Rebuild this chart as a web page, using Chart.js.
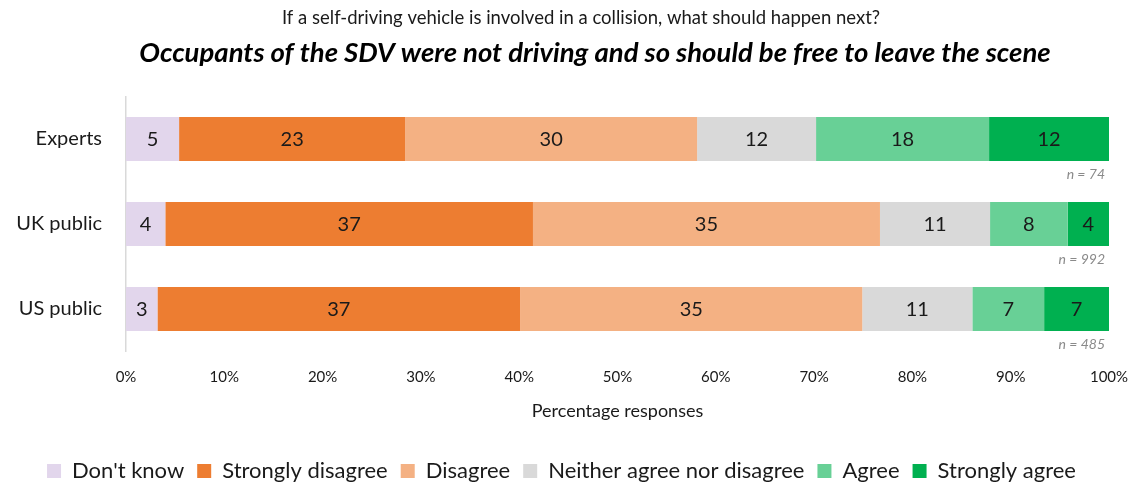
<!DOCTYPE html>
<html>
<head>
<meta charset="utf-8">
<script src="https://cdn.jsdelivr.net/npm/chart.js@4"></script>
<style>
  html, body { margin: 0; padding: 0; background: #fff; }
  #wrap { width: 1135px; height: 485px; }
</style>
</head>
<body>
<div id="wrap"><canvas id="chart"></canvas></div>
<script>
const FONT = "Lato, 'Open Sans', sans-serif";

const question = 'If a self-driving vehicle is involved in a collision, what should happen next?';
const statement = 'Occupants of the SDV were not driving and so should be free to leave the scene';

const groups = ['Experts', 'UK public', 'US public'];
const sampleSizes = ['n = 74', 'n = 992', 'n = 485'];
const responseLabels = ["Don't know", 'Strongly disagree', 'Disagree', 'Neither agree nor disagree', 'Agree', 'Strongly agree'];
const responseColors = ['#E2D6EC', '#ED7D31', '#F4B183', '#D9D9D9', '#68D096', '#00B050'];

// percentages per response, order: Experts, UK public, US public
const dontKnow = [5.4, 4.0, 3.2];
const stronglyDisagree = [23.0, 37.4, 36.9];
const disagree = [29.7, 35.3, 34.8];
const neither = [12.1, 11.2, 11.2];
const agree = [17.6, 7.9, 7.3];
const stronglyAgree = [12.2, 4.2, 6.6];

const xTicks = [0, 10, 20, 30, 40, 50, 60, 70, 80, 90, 100];

const seriesValues = [dontKnow, stronglyDisagree, disagree, neither, agree, stronglyAgree];

// the two heading lines (they are not centred on the same point in the original)
const headings = {
  id: 'headings',
  afterDraw(chart) {
    const ctx = chart.ctx;
    ctx.save();
    ctx.textAlign = 'center';
    ctx.textBaseline = 'middle';
    ctx.fillStyle = '#1a1a1a';
    ctx.font = '18.5px ' + FONT;
    ctx.fillText(question, 581, 18);
    ctx.fillStyle = '#000';
    ctx.font = 'italic bold 27.5px ' + FONT;
    ctx.fillText(statement, 595, 53);
    ctx.restore();
  }
};

// numbers inside the bars + the "n = ..." notes under each bar
const barLabels = {
  id: 'barLabels',
  afterDatasetsDraw(chart) {
    const ctx = chart.ctx;
    ctx.save();
    ctx.textAlign = 'center';
    ctx.textBaseline = 'middle';
    ctx.fillStyle = '#1a1a1a';
    ctx.font = '20px ' + FONT;
    chart.data.datasets.forEach((ds, i) => {
      chart.getDatasetMeta(i).data.forEach((bar, j) => {
        const v = Math.round(ds.data[j]);
        ctx.fillText(String(v), (bar.x + bar.base) / 2, bar.y + 1);
      });
    });
    const meta = chart.getDatasetMeta(0);
    ctx.textAlign = 'right';
    ctx.fillStyle = '#8a8a8a';
    ctx.font = 'italic 14px ' + FONT;
    meta.data.forEach((bar, j) => {
      ctx.fillText(sampleSizes[j], chart.chartArea.right - 4, bar.y + bar.height / 2 + 13);
    });
    ctx.restore();
  }
};

const chart = new Chart(document.getElementById('chart'), {
  type: 'bar',
  data: {
    labels: groups,
    datasets: seriesValues.map((vals, i) => ({
      label: responseLabels[i],
      data: vals,
      backgroundColor: responseColors[i],
      borderWidth: 0,
      categoryPercentage: 1,
      barPercentage: 0.52
    }))
  },
  options: {
    indexAxis: 'y',
    responsive: true,
    maintainAspectRatio: false,
    animation: false,
    layout: { padding: { left: 14, right: 26, top: 96.5, bottom: -7 } },
    scales: {
      x: {
        stacked: true,
        min: 0,
        max: 100,
        afterBuildTicks(scale) {
          scale.ticks = xTicks.map(v => ({ value: v }));
        },
        afterFit(scale) {
          scale.height = 95.5;
          scale.paddingLeft = 0;
          scale.paddingRight = 0;
        },
        grid: { display: false },
        border: { display: false },
        ticks: {
          padding: 9,
          color: '#1a1a1a',
          font: { family: FONT, size: 15 },
          callback: v => v + '%'
        },
        title: {
          display: true,
          text: 'Percentage responses',
          color: '#1a1a1a',
          font: { family: FONT, size: 18 },
          padding: { top: 0, bottom: 25 }
        }
      },
      y: {
        stacked: true,
        afterFit(scale) {
          scale.width = 112;
          scale.paddingTop = 0;
          scale.paddingBottom = 0;
        },
        grid: { display: false },
        border: { display: true, color: '#D9D9D9', width: 1.5 },
        ticks: {
          padding: 16,
          color: '#1a1a1a',
          font: { family: FONT, size: 20 }
        }
      }
    },
    plugins: {
      title: { display: false },
      legend: {
        position: 'bottom',
        labels: {
          color: '#1a1a1a',
          font: { family: FONT, size: 22 },
          boxWidth: 14,
          boxHeight: 14,
          padding: 13
        }
      },
      tooltip: { enabled: false }
    }
  },
  plugins: [barLabels, headings]
});
</script>
</body>
</html>
